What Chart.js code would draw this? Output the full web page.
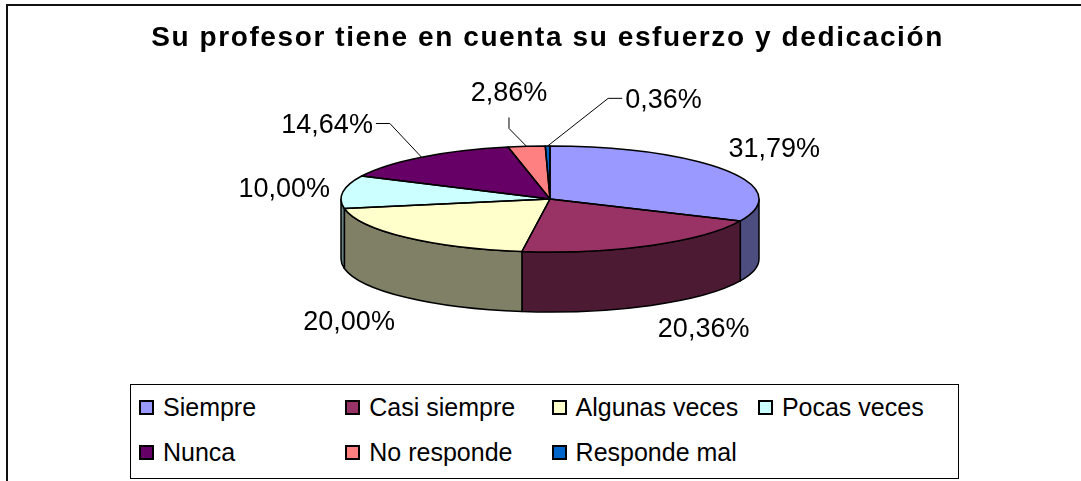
<!DOCTYPE html>
<html><head><meta charset="utf-8">
<title>Su profesor tiene en cuenta su esfuerzo y dedicación</title>
<script src="https://cdn.jsdelivr.net/npm/chart.js@4"></script>
<style>
  body { margin: 0; background: #fff; font-family: 'Liberation Sans', Arial, sans-serif; overflow: hidden; }
  .wrap { position: relative; width: 1081px; height: 481px; overflow: hidden; }
  .frame { position: absolute; left: 6px; top: 4px; width: 1200px; height: 600px; border-left: 2px solid #111; border-top: 2px solid #111; }
  canvas { position: absolute; left: 0; top: 0; }
  .legend { position: absolute; left: 130px; top: 384px; width: 827px; height: 93px; border: 1px solid #000; background: #fff; }
  .item { position: absolute; display: flex; align-items: center; height: 15px; font-size: 25px; color: #000; white-space: nowrap; }
  .box { width: 15px; height: 15px; box-sizing: border-box; border: 2px solid #000; margin-right: 9px; flex: none; }
</style>
</head>
<body>
<div class="wrap">
  <div class="frame"></div>
  <canvas id="chart" width="1081" height="481"></canvas>
  <div class="legend" id="legend"></div>
</div>
<script>
  // data
  const categories = ['Siempre', 'Casi siempre', 'Algunas veces', 'Pocas veces', 'Nunca', 'No responde', 'Responde mal'];
  const percentages = [31.79, 20.36, 20.00, 10.00, 14.64, 2.86, 0.36];
  const topColors = ['#9999FF', '#993366', '#FFFFCC', '#CCFFFF', '#660066', '#FF8080', '#0066CC'];
  const sideColors = ['#4D4D80', '#4D1A33', '#808066', '#668080', '#330033', '#804040', '#003366'];
  // nudges of the value labels away from their default spot (dragged ones get a leader line)
  const labelNudges = [[-9, -6], [0, 0], [-1, 3], [1, -3], [-40, -13], [-16, -31], [116, -24]];

  // where the flattened pie sits on the page
  const PIE = { cx: 550, cy: 199, ry: 53, depth: 60 };
  const LABEL_FONT = '27px "Liberation Sans", Arial, sans-serif';
  const CAP = 27 * 0.716;

  function tilt(ctx, arc) {
    const k = PIE.ry / arc.outerRadius;
    ctx.translate(PIE.cx, PIE.cy);
    ctx.scale(1, k);
    ctx.translate(-arc.x, -arc.y);
    return k;
  }

  function strokeFlat(chart, width) {
    const ctx = chart.ctx, r = chart.currentDevicePixelRatio;
    ctx.save();
    ctx.setTransform(r, 0, 0, r, 0, 0);
    ctx.lineWidth = width;
    ctx.strokeStyle = '#000';
    ctx.lineJoin = 'round';
    ctx.stroke();
    ctx.restore();
  }

  const pie3d = {
    id: 'pie3d',
    beforeDraw(chart) {
      chart.ctx.letterSpacing = '1.6px'; // title in the picture is a bit spaced out
    },
    beforeDatasetsDraw(chart) {
      const ctx = chart.ctx;
      ctx.letterSpacing = '0px';
      const arcs = chart.getDatasetMeta(0).data;
      ctx.save();
      const k = tilt(ctx, arcs[0]);
      const dz = PIE.depth / k;
      // front walls
      arcs.forEach((arc, i) => {
        const s = Math.max(arc.startAngle, 0), e = Math.min(arc.endAngle, Math.PI);
        if (e <= s) return;
        const R = arc.outerRadius;
        ctx.beginPath();
        ctx.arc(arc.x, arc.y, R, s, e);
        ctx.lineTo(arc.x + R * Math.cos(e), arc.y + R * Math.sin(e) + dz);
        ctx.arc(arc.x, arc.y + dz, R, e, s, true);
        ctx.closePath();
        ctx.fillStyle = sideColors[i];
        ctx.fill();
        strokeFlat(chart, 1.5);
      });
      // transform stays on while chart.js paints the top faces
    },
    afterDatasetsDraw(chart) {
      const ctx = chart.ctx;
      ctx.restore();
      const arcs = chart.getDatasetMeta(0).data;

      // outlines of the top faces
      arcs.forEach(arc => {
        ctx.save();
        tilt(ctx, arc);
        ctx.beginPath();
        ctx.moveTo(arc.x, arc.y);
        ctx.arc(arc.x, arc.y, arc.outerRadius, arc.startAngle, arc.endAngle);
        ctx.closePath();
        ctx.restore();
        strokeFlat(chart, 1.5);
      });

      // value labels
      ctx.save();
      ctx.font = LABEL_FONT;
      ctx.fillStyle = '#000';
      ctx.textBaseline = 'alphabetic';
      arcs.forEach((arc, i) => {
        const mid = (arc.startAngle + arc.endAngle) / 2;
        const c = Math.cos(mid), s = Math.sin(mid);
        const R = arc.outerRadius;
        const text = percentages[i].toFixed(2).replace('.', ',') + '%';
        const w = ctx.measureText(text).width;
        let ax = PIE.cx + (R + 14) * c;
        let ay = PIE.cy + (PIE.ry + 14) * s + (s > 0 ? PIE.depth : 0);
        ax += labelNudges[i][0];
        ay += labelNudges[i][1];
        let left = Math.abs(c) < 0.2 ? ax - w / 2 : (c > 0 ? ax : ax - w);
        let top = s < -0.3 ? ay - CAP : (s > 0.3 ? ay : ay - CAP / 2);
        ctx.textAlign = 'left';
        ctx.fillText(text, left, top + CAP);

        if (Math.hypot(labelNudges[i][0], labelNudges[i][1]) > 20) {
          const tx = PIE.cx + R * c, ty = PIE.cy + PIE.ry * s;
          const bx = left + w / 2, by = top + CAP / 2;
          const dx = tx - bx, dy = ty - by;
          let sx, sy, ex, ey;
          if (Math.abs(dx) > Math.abs(dy)) {
            sx = dx > 0 ? left + w + 3 : left - 3; sy = by;
            ex = sx + Math.sign(dx) * 14; ey = sy;
          } else {
            sx = bx; sy = dy > 0 ? top + CAP + 16 : top - 16;
            ex = sx; ey = sy + Math.sign(dy) * 11;
          }
          ctx.beginPath();
          ctx.moveTo(sx, sy);
          ctx.lineTo(ex, ey);
          ctx.lineTo(tx, ty);
          ctx.lineWidth = 1;
          ctx.strokeStyle = '#000';
          ctx.stroke();
        }
      });
      ctx.restore();
    }
  };

  new Chart(document.getElementById('chart').getContext('2d'), {
    type: 'pie',
    data: {
      labels: categories,
      datasets: [{
        data: percentages,
        backgroundColor: topColors,
        borderWidth: 0,
        radius: 209,
        hoverOffset: 0,
        clip: false
      }]
    },
    options: {
      responsive: false,
      animation: false,
      events: [],
      layout: { padding: { left: 14 } },
      plugins: {
        legend: { display: false },
        tooltip: { enabled: false },
        title: {
          display: true,
          text: 'Su profesor tiene en cuenta su esfuerzo y dedicación',
          color: '#000',
          font: { family: '"Liberation Sans", Arial, sans-serif', size: 28, weight: 'bold' },
          padding: { top: 21, bottom: 8 }
        }
      }
    },
    plugins: [pie3d]
  });

  // legend: 4 columns, 2 rows
  const legend = document.getElementById('legend');
  categories.forEach((name, i) => {
    const item = document.createElement('div');
    item.className = 'item';
    item.style.left = (8 + (i % 4) * 206.3) + 'px';
    item.style.top = (15 + Math.floor(i / 4) * 45) + 'px';
    const box = document.createElement('span');
    box.className = 'box';
    box.style.background = topColors[i];
    item.appendChild(box);
    item.appendChild(document.createTextNode(name));
    legend.appendChild(item);
  });
</script>
</body></html>
